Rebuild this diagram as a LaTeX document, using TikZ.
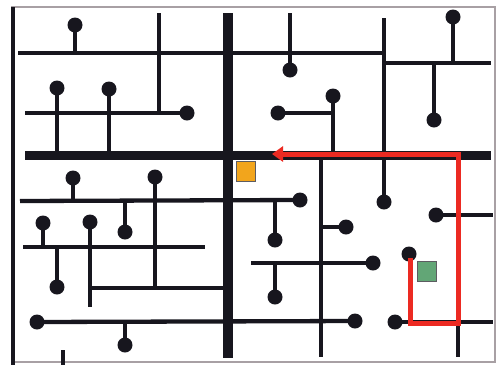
\documentclass[tikz,border=0pt]{standalone}
\usetikzlibrary{arrows.meta}
\definecolor{ink}{HTML}{17161E}
\definecolor{framegray}{HTML}{A8A0A4}
\definecolor{redpath}{HTML}{EC2A22}
\definecolor{orangebox}{HTML}{F2A51C}
\definecolor{greenbox}{HTML}{62A676}
\tikzset{
  wire/.style={draw=ink, line width=4.3pt},
  mainwire/.style={draw=ink, line width=9pt},
  pin/.style={fill=ink, circle, inner sep=0pt, minimum size=15pt},
  route/.style={draw=redpath, line width=5pt, line join=miter,
    -{Triangle[length=11pt,width=15pt]}},
  square/.style={draw=ink!70, line width=1pt, minimum width=19pt, minimum height=20pt, inner sep=0pt}
}
\begin{document}
\begin{tikzpicture}[x=1pt,y=-1pt]
\useasboundingbox (0,0) rectangle (498,365);
\fill[white] (0,0) rectangle (498,365);
% frame
\draw[framegray, line width=1.5pt] (11,7) -- (495,7) -- (495,362) -- (13,362);
\draw[ink, line width=4pt] (13,7) -- (13,365);
% main thick lines
\draw[mainwire] (25,155) -- (491,155);
\draw[mainwire, line width=10pt] (228,13) -- (228,358);
% thin wires
\draw[wire] (18,53) -- (383,53);
\draw[wire] (75,25) -- (75,53);
\draw[wire] (159,13) -- (159,113);
\draw[wire] (25,113) -- (187,113);
\draw[wire] (57,88) -- (57,155);
\draw[wire] (109,89) -- (109,155);
\draw[wire] (290,13) -- (290,70);
\draw[wire] (384,18) -- (384,202);
\draw[wire] (384,63) -- (491,63);
\draw[wire] (453,17) -- (453,63);
\draw[wire] (434,63) -- (434,120);
\draw[wire] (278,113) -- (333,113);
\draw[wire] (333,96) -- (333,155);
\draw[wire] (321,155) -- (321,357);
\draw[wire] (73,178) -- (73,201);
\draw[wire] (155,177) -- (155,288);
\draw[wire] (20,201) -- (300,200);
\draw[wire] (125,201) -- (125,232);
\draw[wire] (275,200) -- (275,240);
\draw[wire] (321,227) -- (346,227);
\draw[wire] (23,247) -- (205,247);
\draw[wire] (43,223) -- (43,247);
\draw[wire] (57,247) -- (57,287);
\draw[wire] (90,222) -- (90,307);
\draw[wire] (90,288) -- (225,288);
\draw[wire] (251,263) -- (373,263);
\draw[wire] (275,263) -- (275,297);
\draw[wire] (37,322) -- (355,321);
\draw[wire] (125,322) -- (125,345);
\draw[wire] (63,350) -- (63,365);
\draw[wire] (436,215) -- (493,215);
\draw[wire] (395,322) -- (493,322);
\draw[wire] (458,155) -- (458,357);
% pins
\foreach \p/\q in {75/25,187/113,57/88,109/89,290/70,384/202,453/17,434/120,278/113,333/96,
  73/178,155/177,300/200,125/232,275/240,346/227,43/223,57/287,90/222,373/263,275/297,
  37/322,355/321,125/345,436/215,395/322,409/254}
  \node[pin] at (\p,\q) {};
% route
\draw[route] (410,258) -- (410,323) -- (458,323) -- (458,154) -- (272,154);
% squares
\node[square, fill=orangebox] (goal) at (245.5,171) {};
\node[square, fill=greenbox] (start) at (426.5,271) {};
\end{tikzpicture}
\end{document}
